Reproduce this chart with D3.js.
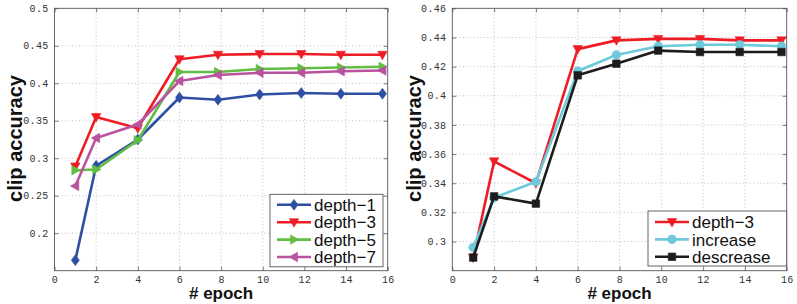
<!DOCTYPE html>
<html><head><meta charset="utf-8">
<script src="https://cdn.jsdelivr.net/npm/d3@7"></script>
<style>body{margin:0;background:#fff}svg{display:block}</style>
</head><body>
<svg id="c" width="797" height="304"></svg>
<script>
// ---------- data ----------
const epochs = [1, 2, 4, 6, 7.85, 9.85, 11.85, 13.75, 15.75];
const depth1 = [0.164, 0.290, 0.325, 0.381, 0.378, 0.385, 0.387, 0.386, 0.386];
const depth3 = [0.289, 0.355, 0.340, 0.432, 0.438, 0.439, 0.439, 0.438, 0.438];
const depth5 = [0.284, 0.285, 0.324, 0.415, 0.415, 0.419, 0.420, 0.421, 0.422];
const depth7 = [0.263, 0.327, 0.345, 0.403, 0.411, 0.414, 0.414, 0.416, 0.417];
const increase = [0.296, 0.330, 0.341, 0.417, 0.428, 0.434, 0.435, 0.435, 0.434];
const descrease = [0.289, 0.331, 0.326, 0.414, 0.422, 0.431, 0.430, 0.430, 0.430];
const xTicks = [0, 2, 4, 6, 8, 10, 12, 14, 16];
const yTicksLeft = [0.2, 0.25, 0.3, 0.35, 0.4, 0.45, 0.5];
const yTicksRight = [0.3, 0.32, 0.34, 0.36, 0.38, 0.4, 0.42, 0.44, 0.46];

const svg = d3.select("#c");

function markerPath(type, r) {
  switch (type) {
    case "diamond": return `M0,${-r*1.15}L${r*0.85},0L0,${r*1.15}L${-r*0.85},0Z`;
    case "down": return `M${-r},${-r*0.75}L${r},${-r*0.75}L0,${r*1.05}Z`;
    case "right": return `M${-r*0.75},${-r}L${-r*0.75},${r}L${r*1.05},0Z`;
    case "left": return `M${r*0.75},${-r}L${r*0.75},${r}L${-r*1.05},0Z`;
    case "circle": return d3.symbol(d3.symbolCircle, Math.PI*r*r*0.85)();
    case "square": return `M${-r*0.8},${-r*0.8}h${r*1.6}v${r*1.6}h${-r*1.6}Z`;
  }
}

function panel(cfg) {
  const x = d3.scaleLinear().domain([0, 16]).range(cfg.xr);
  const y = d3.scaleLinear().domain(cfg.yd).range([270.7, 8.3]);
  const g = svg.append("g");
  const [x0, x1] = cfg.xr, y0 = 270.7, y1 = 8.3;
  // grid
  g.append("g").selectAll("line").data(cfg.xt.slice(1, -1)).join("line")
    .attr("x1", d => x(d)).attr("x2", d => x(d)).attr("y1", y0).attr("y2", y1)
    .attr("stroke", "#b0b0b0").attr("stroke-width", 0.8).attr("stroke-dasharray", "1,2.5");
  g.append("g").selectAll("line").data(cfg.yt.filter(d => Math.abs(y(d) - y1) > 1)).join("line")
    .attr("y1", d => y(d)).attr("y2", d => y(d)).attr("x1", x0).attr("x2", x1)
    .attr("stroke", "#b0b0b0").attr("stroke-width", 0.8).attr("stroke-dasharray", "1,2.5");
  // axes via d3
  const fmt = d => String(+d.toFixed(2));
  const axB = g.append("g").attr("transform", `translate(0,${y0})`)
    .call(d3.axisBottom(x).tickValues(cfg.xt).tickSizeInner(-4).tickSizeOuter(0).tickPadding(5));
  const axT = g.append("g").attr("transform", `translate(0,${y1})`)
    .call(d3.axisTop(x).tickValues(cfg.xt).tickSizeInner(-4).tickSizeOuter(0).tickFormat(""));
  const axL = g.append("g").attr("transform", `translate(${x0},0)`)
    .call(d3.axisLeft(y).tickValues(cfg.yt).tickSizeInner(-4).tickSizeOuter(0).tickPadding(6).tickFormat(fmt));
  const axR = g.append("g").attr("transform", `translate(${x1},0)`)
    .call(d3.axisRight(y).tickValues(cfg.yt).tickSizeInner(-4).tickSizeOuter(0).tickFormat(""));
  [axB, axT, axL, axR].forEach(a => {
    a.select(".domain").remove();
    a.selectAll("line").attr("stroke", "#555").attr("stroke-width", 0.8);
    a.selectAll("text").attr("font-family", "Liberation Mono, monospace").attr("font-size", 10)
      .attr("fill", "#333").attr("letter-spacing", "0.3px");
  });
  g.append("rect").attr("x", x0).attr("y", y1).attr("width", x1 - x0).attr("height", y0 - y1)
    .attr("fill", "none").attr("stroke", "#555").attr("stroke-width", 0.9);
  // series
  const line = d3.line().x(d => x(d[0])).y(d => y(d[1]));
  cfg.series.forEach(s => {
    const pts = epochs.map((e, i) => [e, s.values[i]]);
    g.append("path").attr("d", line(pts)).attr("fill", "none").attr("stroke", s.color)
      .attr("stroke-width", 2.6).attr("stroke-linejoin", "round");
    g.append("g").selectAll("path").data(pts).join("path")
      .attr("transform", d => `translate(${x(d[0])},${y(d[1])})`)
      .attr("d", markerPath(s.marker, 4.7)).attr("fill", s.color).attr("stroke", s.color).attr("stroke-width", 0.6);
  });
  // axis titles
  g.append("text").attr("x", (x0 + x1) / 2).attr("y", 298.5).attr("text-anchor", "middle")
    .attr("font-family", "Liberation Sans, Arial, sans-serif").attr("font-weight", "bold")
    .attr("font-size", 17).attr("fill", "#111").text("# epoch");
  g.append("text").attr("transform", `translate(${cfg.ylabX},${(y0 + y1) / 2 - 1}) rotate(-90)`)
    .attr("text-anchor", "middle")
    .attr("font-family", "Liberation Sans, Arial, sans-serif").attr("font-weight", "bold")
    .attr("font-size", 20).attr("fill", "#111").text("clip accuracy");
  // legend
  const L = cfg.legend;
  const lg = g.append("g");
  lg.append("rect").attr("x", L.x).attr("y", L.y).attr("width", L.w).attr("height", L.h)
    .attr("fill", "#fff").attr("stroke", "#555").attr("stroke-width", 0.9);
  cfg.series.forEach((s, i) => {
    const yy = L.y + L.first + i * L.step;
    lg.append("line").attr("x1", L.x + 7).attr("x2", L.x + 41).attr("y1", yy).attr("y2", yy)
      .attr("stroke", s.color).attr("stroke-width", 2.6);
    lg.append("path").attr("transform", `translate(${L.x + 24},${yy})`)
      .attr("d", markerPath(s.marker, 4.7)).attr("fill", s.color).attr("stroke", s.color).attr("stroke-width", 0.6);
    lg.append("text").attr("x", L.x + 44).attr("y", yy).attr("dy", "0.36em")
      .attr("font-family", "Liberation Sans, Arial, sans-serif").attr("font-size", 17)
      .attr("fill", "#111").text(s.name);
  });
}

panel({
  xr: [54.5, 387.7], yd: [0.15, 0.5], xt: xTicks, yt: yTicksLeft, ylabX: 22,
  series: [
    {name: "depth\u22121", values: depth1, color: "#2e4fa3", marker: "diamond"},
    {name: "depth\u22123", values: depth3, color: "#ee1d25", marker: "down"},
    {name: "depth\u22125", values: depth5, color: "#62bd45", marker: "right"},
    {name: "depth\u22127", values: depth7, color: "#b9539f", marker: "left"}
  ],
  legend: {x: 270, y: 194.3, w: 113, h: 72.5, first: 10.5, step: 17.4}
});
panel({
  xr: [452.3, 786.7], yd: [0.28, 0.46], xt: xTicks, yt: yTicksRight, ylabX: 421,
  series: [
    {name: "depth\u22123", values: depth3, color: "#ee1d25", marker: "down"},
    {name: "increase", values: increase, color: "#6ccadb", marker: "circle"},
    {name: "descrease", values: descrease, color: "#1c1c1c", marker: "square"}
  ],
  legend: {x: 648, y: 211, w: 138.7, h: 55, first: 11, step: 17.4}
});
</script>
</body></html>
